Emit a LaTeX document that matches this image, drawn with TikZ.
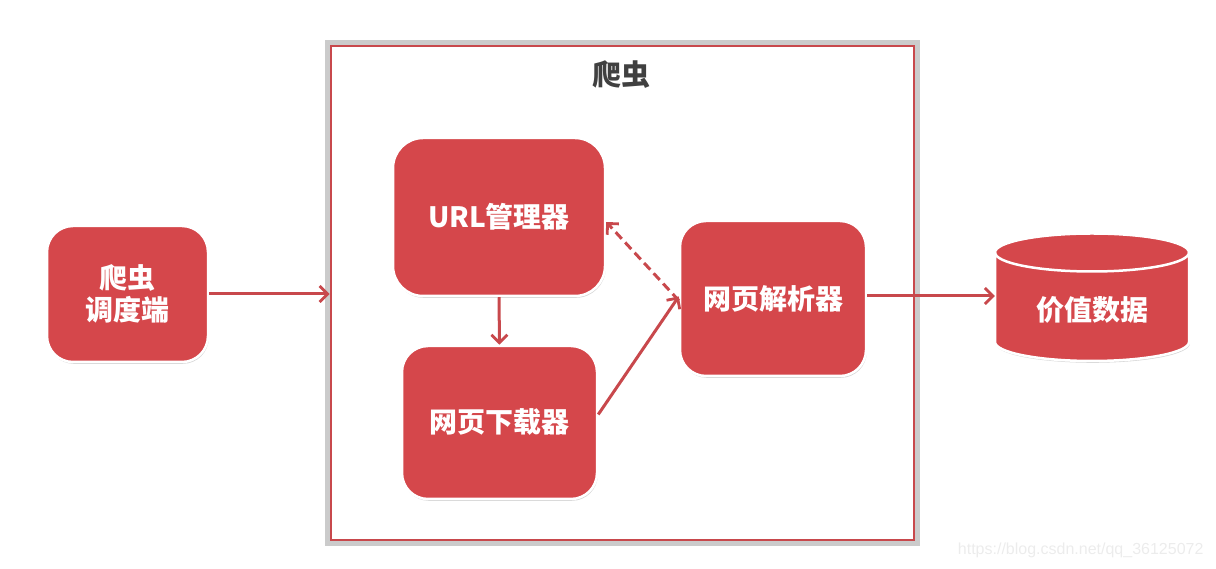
\documentclass[tikz,border=0pt]{standalone}
\usepackage{fontspec}
\newfontfamily\cjk{Noto Sans CJK SC}
\setsansfont{Liberation Sans}
\usetikzlibrary{arrows.meta,shadows,positioning}
\definecolor{boxred}{RGB}{213,71,75}
\definecolor{arrred}{RGB}{200,72,76}
\definecolor{titlegray}{RGB}{64,64,64}
\definecolor{wmgray}{RGB}{236,236,236}
\tikzset{
  redbox/.style={draw=white, line width=2.5pt, fill=boxred, rounded corners=26pt,
    text=white, font=\cjk\bfseries\fontsize{28}{33}\selectfont, align=center,
    inner sep=0pt,
    drop shadow={shadow xshift=0.8pt, shadow yshift=-1.8pt, opacity=0.28, fill=black!60}},
  flow/.style={draw=arrred, line width=3pt,
    -{Straight Barb[length=8pt,width=16pt,line width=2.8pt]}},
  dflow/.style={flow, dash pattern=on 9pt off 5pt},
}
\begin{document}
\begin{tikzpicture}[x=1pt,y=1pt]
\useasboundingbox (0,0) rectangle (1216,569);
% outer crawler box
\node[draw=gray!55, line width=4.5pt, minimum width=590pt, minimum height=501pt,
      inner sep=0pt, opacity=0.75] (shadowframe) at (622.5,276) {};
\node[draw=arrred, line width=2.8pt, minimum width=583pt, minimum height=494pt,
      inner sep=0pt] (crawler) at (622.5,276) {};
\node[text=titlegray, font=\cjk\bfseries\fontsize{29}{34}\selectfont] (title) at (621,494) {爬虫};
% boxes
\node[redbox, minimum width=161pt, minimum height=136pt] (sched) at (127.5,275) {爬虫\\[-1pt]调度端};
\node[redbox, minimum width=212pt, minimum height=158pt, rounded corners=30pt] (url) at (499,352) {URL管理器};
\node[redbox, minimum width=195pt, minimum height=153pt] (dl) at (499.5,146.5) {网页下载器};
\node[redbox, minimum width=186pt, minimum height=155pt] (parser) at (773,270.5) {网页解析器};
% cylinder
\fill[black!60, opacity=0.28, xshift=0.8pt, yshift=-1.8pt]
  (995,316.5) -- (995,227) arc[start angle=180, end angle=360, x radius=97, y radius=19]
  -- (1189,316.5) arc[start angle=0, end angle=180, x radius=97, y radius=19] -- cycle;
\draw[draw=white, line width=2.5pt, fill=boxred]
  (995,316.5) -- (995,227) arc[start angle=180, end angle=360, x radius=97, y radius=19]
  -- (1189,316.5) arc[start angle=0, end angle=180, x radius=97, y radius=19] -- cycle;
\draw[white, line width=2.5pt] (995,316.5) arc[start angle=180, end angle=360, x radius=97, y radius=19];
\node[text=white, font=\cjk\bfseries\fontsize{28}{33}\selectfont, minimum width=194pt, minimum height=140pt, inner sep=0pt] (data) at (1092,268) {};
\node[text=white, font=\cjk\bfseries\fontsize{28}{33}\selectfont] (datalabel) at (1092,259) {价值数据};
% connectors
\draw[flow] (sched.east) -- (crawler.west |- sched.east);
\draw[flow] (url.south) -- (dl.north);
\draw[flow] ([yshift=8pt]dl.east) -- ([yshift=2pt]parser.west);
\draw[dflow] ([yshift=-2pt]parser.west) -- ([yshift=-5pt]url.east);
\draw[flow] (parser.east |- 0,273) -- (data.west |- 0,273);
% watermark
\node[text=wmgray, font=\sffamily\fontsize{16}{19}\selectfont, anchor=east] (wm) at (1207,19) {https://blog.csdn.net/qq\_36125072};
\end{tikzpicture}
\end{document}
